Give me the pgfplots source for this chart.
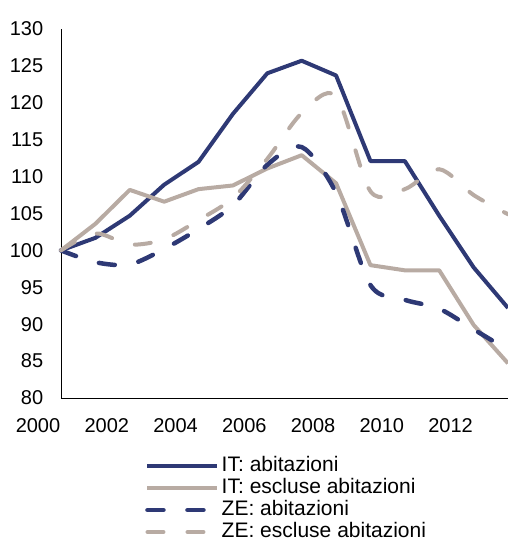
\documentclass[border=0pt]{standalone}
\usepackage{fontspec}
\setmainfont{Liberation Sans}
\usepackage{pgfplots}
\pgfplotsset{compat=1.18}
\definecolor{navy}{RGB}{46,57,117}
\definecolor{taupe}{RGB}{184,171,163}
\begin{document}
\fontsize{20}{24}\selectfont
\begin{tikzpicture}
\useasboundingbox (0,0) rectangle (508pt,541pt);
\begin{axis}[
  at={(61pt,143pt)}, anchor=south west,
  scale only axis, width=447pt, height=369pt,
  xmin=2000, xmax=2013, ymin=80, ymax=130,
  axis x line=bottom, axis y line=left,
  axis line style={-, black, line width=0.8pt},
  ytick={80,85,...,130},
  xtick={2000,2002,2004,2006,2008,2010,2012},
  xticklabels={2000,2002,2004,2006,2008,2010,2012},
  major tick length=0pt,
  tick label style={font=\fontsize{20}{24}\selectfont},
  /pgf/number format/assume math mode=true,
  /pgf/number format/1000 sep={},
  yticklabel style={anchor=east, xshift=-11pt},
  xticklabel style={anchor=north, yshift=-14pt, xshift=-23pt},
  clip=false,
  legend style={at={(0.188,-0.154)}, anchor=north west, draw=none, fill=none,
    font=\fontsize{21}{23}\selectfont, inner sep=0pt, row sep=0pt, column sep=1pt,
    nodes={inner sep=1pt, text height=15pt, text depth=5pt}},
  legend cell align=left,
  legend image code/.code={\draw[#1] (0pt,0pt) -- (70pt,0pt);},
]
\addplot[navy, line width=4pt, line join=round] coordinates {
(2000,100) (2001,101.7) (2002,104.7) (2003,108.9) (2004,112.0) (2005,118.5) (2006,124.0)
(2007,125.7) (2008,123.7) (2009,112.1) (2010,112.1) (2011,104.7) (2012,97.7) (2013,92.2)};
\addlegendentry{IT: abitazioni}
\addplot[taupe, line width=4pt, line join=round] coordinates {
(2000,100) (2001,103.6) (2002,108.2) (2003,106.6) (2004,108.3) (2005,108.8) (2006,111.1)
(2007,112.9) (2008,109.1) (2009,98.0) (2010,97.3) (2011,97.3) (2012,89.9) (2013,84.7)};
\addlegendentry{IT: escluse abitazioni}
\addplot[navy, line width=4.5pt, line cap=round, dash pattern=on 16pt off 24pt, smooth, tension=0.5] coordinates {
(2000,100) (2001,98.4) (2002,98.1) (2003,100.2) (2004,102.9) (2005,106.1) (2006,111.6)
(2007,114.0) (2008,107.8) (2009,95.3) (2010,93.3) (2011,92.1) (2012,89.3) (2013,86.5)};
\addlegendentry{ZE: abitazioni}
\addplot[taupe, line width=4pt, line cap=round, dash pattern=on 16pt off 24pt, smooth, tension=0.5] coordinates {
(2000,100) (2001,102.3) (2002,100.8) (2003,101.5) (2004,104.1) (2005,107.1) (2006,112.4)
(2007,118.6) (2008,120.9) (2009,108.0) (2010,108.3) (2011,111.0) (2012,107.5) (2013,104.9)};
\addlegendentry{ZE: escluse abitazioni}
\end{axis}
\end{tikzpicture}
\end{document}
